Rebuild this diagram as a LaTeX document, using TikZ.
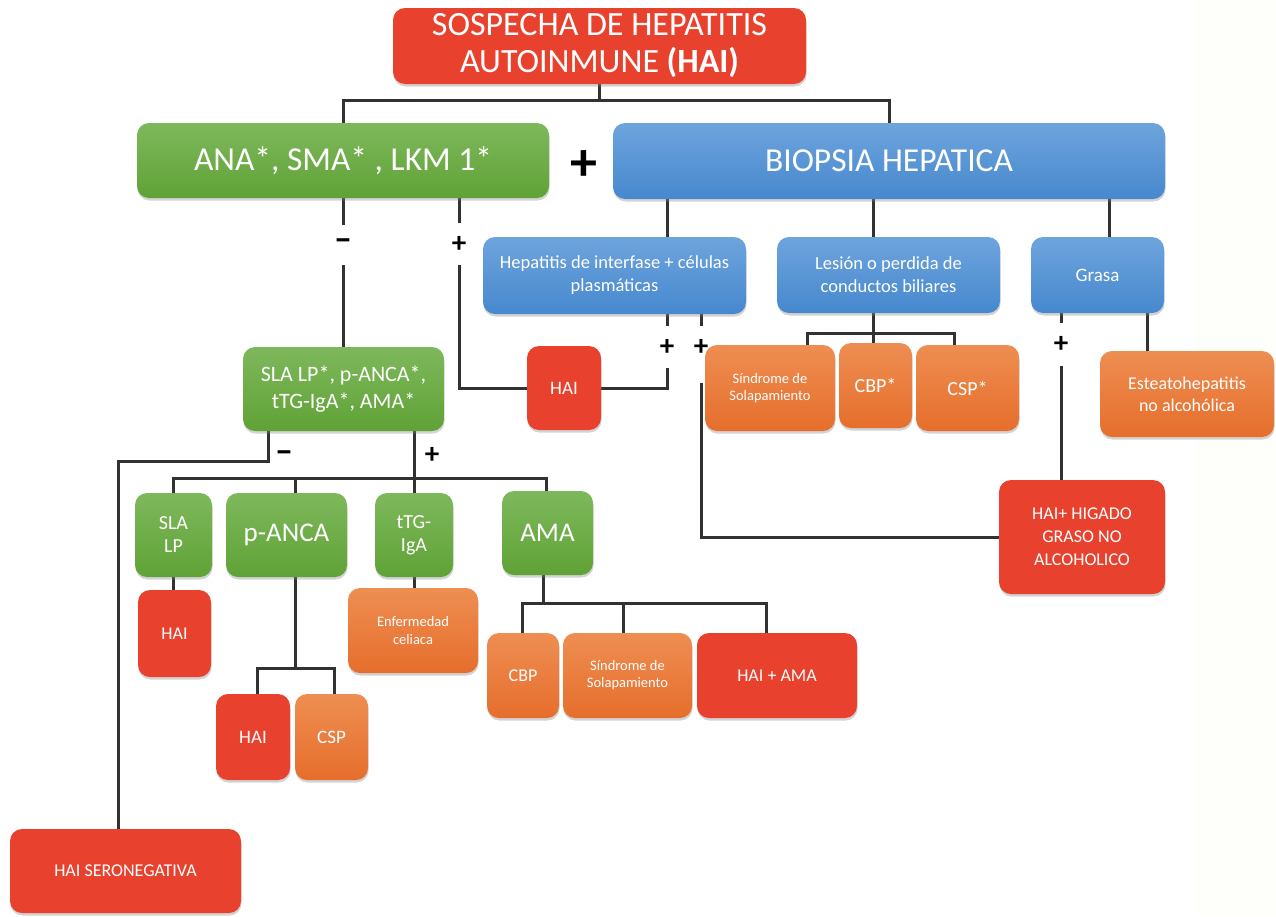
\documentclass[tikz,border=0pt]{standalone}
\usepackage{fontspec}
\setmainfont{Carlito}
\usetikzlibrary{shadows,backgrounds}
\definecolor{hred}{RGB}{232,65,45}
\definecolor{gtop}{RGB}{126,184,92}
\definecolor{gbot}{RGB}{96,162,54}
\definecolor{btop}{RGB}{110,164,221}
\definecolor{bbot}{RGB}{70,136,206}
\definecolor{otop}{RGB}{238,142,82}
\definecolor{obot}{RGB}{230,110,44}
\definecolor{lcol}{RGB}{50,50,50}
\definecolor{cream}{RGB}{254,254,250}
\newcommand\myfs[2]{\fontsize{#1}{#2}\selectfont}
\tikzset{
 bx/.style={rounded corners=12pt, inner sep=2pt, outer sep=0pt, align=center, text=white,
   drop shadow={shadow xshift=0.5pt,shadow yshift=-2.5pt,opacity=0.35}},
 redbox/.style={bx, fill=hred},
 grnbox/.style={bx, top color=gtop, bottom color=gbot},
 blubox/.style={bx, top color=btop, bottom color=bbot},
 orgbox/.style={bx, top color=otop, bottom color=obot},
 conn/.style={draw=lcol, line width=3pt},
 sign/.style={inner sep=0pt, outer sep=0pt, text=black, font=\bfseries\myfs{29}{29}},
 minus/.style={sign, font=\bfseries\myfs{36}{36}},
 sz/.style 2 args={minimum width=#1pt, minimum height=#2pt},
}
\begin{document}
\begin{tikzpicture}[x=1pt,y=-1pt]
\useasboundingbox (0,0) rectangle (1276,916);
% boxes
\node[redbox, sz={413}{76}, font=\myfs{34}{37}] (title) at (599.5,46) {SOSPECHA DE HEPATITIS\\AUTOINMUNE \textbf{(HAI)}};
\node[grnbox, sz={412}{75}, font=\myfs{33.5}{38}] (ana) at (343,160.5) {ANA*, SMA* , LKM 1*};
\node[blubox, sz={552}{76}, font=\myfs{33.5}{38}] (bio) at (889,161) {BIOPSIA HEPATICA};
\node[font=\bfseries\myfs{54}{54}, inner sep=0pt] (bigplus) at (584,166) {+};
\node[blubox, sz={263}{77}, font=\myfs{18.5}{23}] (hep) at (614.5,275.5) {Hepatitis de interfase + células\\plasmáticas};
\node[blubox, sz={223}{76}, font=\myfs{18.5}{23}] (les) at (888.5,275) {Lesión o perdida de\\conductos biliares};
\node[blubox, sz={133}{76}, font=\myfs{19}{23}] (gra) at (1097.5,275) {Grasa};
\node[redbox, sz={74}{84}, font=\myfs{19}{23}] (hai1) at (564,388) {HAI};
\node[orgbox, sz={130}{86}, font=\myfs{14.5}{17}] (sin1) at (770,388) {Síndrome de\\Solapamiento};
\node[orgbox, sz={73}{85}, font=\myfs{20}{23}] (cbp1) at (875.5,385.5) {CBP*};
\node[orgbox, sz={103}{86}, font=\myfs{20}{23}] (csp1) at (967.5,388) {CSP*};
\node[orgbox, sz={174}{86}, font=\myfs{18}{22}] (est) at (1187,394) {Esteatohepatitis\\no alcohólica};
\node[redbox, sz={166}{114}, font=\myfs{18}{23}] (hgnc) at (1082,537) {HAI+ HIGADO\\GRASO NO\\ALCOHOLICO};
\node[grnbox, sz={201}{84}, font=\myfs{22}{27}] (sla) at (343.5,389) {SLA LP*, p-ANCA*,\\tTG-IgA*, AMA*};
\node[grnbox, sz={77}{84}, font=\myfs{20}{23}] (slalp) at (173.5,535) {SLA\\LP};
\node[grnbox, sz={121}{84}, font=\myfs{27}{30}] (panca) at (286.5,535) {p-ANCA};
\node[grnbox, sz={78}{84}, font=\myfs{20}{23}] (ttg) at (414,535) {tTG-\\IgA};
\node[grnbox, sz={91}{84}, font=\myfs{27}{30}] (ama) at (547.5,533) {AMA};
\node[redbox, sz={73}{87}, font=\myfs{18}{22}] (hai2) at (174.5,633.5) {HAI};
\node[orgbox, sz={130}{85}, font=\myfs{14.5}{18}] (cel) at (413,630.5) {Enfermedad\\celiaca};
\node[redbox, sz={74}{86}, font=\myfs{19}{22}] (hai3) at (253,737) {HAI};
\node[orgbox, sz={73}{86}, font=\myfs{19}{22}] (csp2) at (331.5,737) {CSP};
\node[orgbox, sz={72}{85}, font=\myfs{18}{22}] (cbp2) at (523,675.5) {CBP};
\node[orgbox, sz={129}{85}, font=\myfs{14.5}{17}] (sin2) at (627.5,675.5) {Síndrome de\\Solapamiento};
\node[redbox, sz={160}{85}, font=\myfs{18}{22}] (haiama) at (777,675.5) {HAI + AMA};
\node[redbox, sz={231}{84}, font=\myfs{18}{22}] (seroneg) at (125.5,871) {HAI SERONEGATIVA};
% signs
\node[minus, minimum height=40pt] (m1) at (343,245) {–};
\node[sign, minimum height=42pt] (p1) at (459,244) {+};
\node[sign, minimum height=42pt] (p2) at (667,347) {+};
\node[sign, minimum height=42pt] (p3) at (701,347) {+};
\node[sign, minimum height=43pt] (p4) at (1061,344) {+};
\node[minus] (m2) at (284,457) {–};
\node[sign] (p5) at (432,455) {+};
% connectors
\begin{scope}[on background layer]
\fill[cream] (1195,0) rectangle (1276,916);
\draw[conn] (title.south) -- ++(0,16) coordinate (tj);
\draw[conn] (tj) -| (ana.north);
\draw[conn] (tj) -| (bio.north);
\draw[conn] (ana.south) -- (m1.north);
\draw[conn] (m1.south) -- (m1.south |- sla.north);
\draw[conn] (p1.north) -- (p1.north |- ana.south);
\draw[conn] (p1.south) |- (hai1.west);
\coordinate (bh) at ([xshift=53pt]hep.north);
\coordinate (bl) at ([xshift=-15.5pt]les.north);
\coordinate (bg) at ([xshift=11.5pt]gra.north);
\draw[conn] (bh |- bio.south) -- (bh);
\draw[conn] (bl |- bio.south) -- (bl);
\draw[conn] (bg |- bio.south) -- (bg);
\draw[conn] (p2.north) -- (p2.north |- hep.south);
\draw[conn] (hai1.east) -| (p2.south);
\draw[conn] (p3.north) -- (p3.north |- hep.south);
\draw[conn] ([yshift=-15pt]p3.south) |- (hgnc.west);
\draw[conn] (bl |- les.south) -- ++(0,20) coordinate (lj);
\draw[conn] (lj) -- (lj |- cbp1.north);
\draw[conn] (lj) -| ([xshift=37pt]sin1.north);
\draw[conn] (lj) -| ([xshift=-13.5pt]csp1.north);
\draw[conn] (p4.north) -- (p4.north |- gra.south);
\draw[conn] (p4.south) -- (p4.south |- hgnc.north);
\coordinate (ge) at ([xshift=-40pt]est.north);
\draw[conn] (ge) -- (ge |- gra.south);
\coordinate (sm) at ([xshift=-75.5pt]sla.south);
\draw[conn] (sm) -- ++(0,30) -| ([xshift=-7.5pt]seroneg.north);
\draw[conn] (sla.south -| ttg.north) -- (ttg.north);
\draw[conn] (slalp.north) -- ++(0,-15) coordinate (rj) -| ([xshift=-1.5pt]ama.north);
\coordinate (pa) at ([xshift=8.5pt]panca.north);
\draw[conn] (pa) -- (pa |- rj);
\draw[conn] (slalp.south) -- (slalp.south |- hai2.north);
\draw[conn] (ttg.south) -- (ttg.south |- cel.north);
\draw[conn] (pa |- panca.south) -- ++(0,91) coordinate (pj);
\draw[conn] (pj) -| ([xshift=4pt]hai3.north);
\draw[conn] (pj) -| ([xshift=2.5pt]csp2.north);
\coordinate (aj0) at ([xshift=-4.5pt]ama.south);
\draw[conn] (aj0) -- ++(0,28) coordinate (aj);
\draw[conn] (aj) -| ([xshift=-1pt]cbp2.north);
\draw[conn] (aj) -| ([xshift=-4.5pt]sin2.north);
\draw[conn] (aj) -| ([xshift=-11pt]haiama.north);
\end{scope}
\end{tikzpicture}
\end{document}
